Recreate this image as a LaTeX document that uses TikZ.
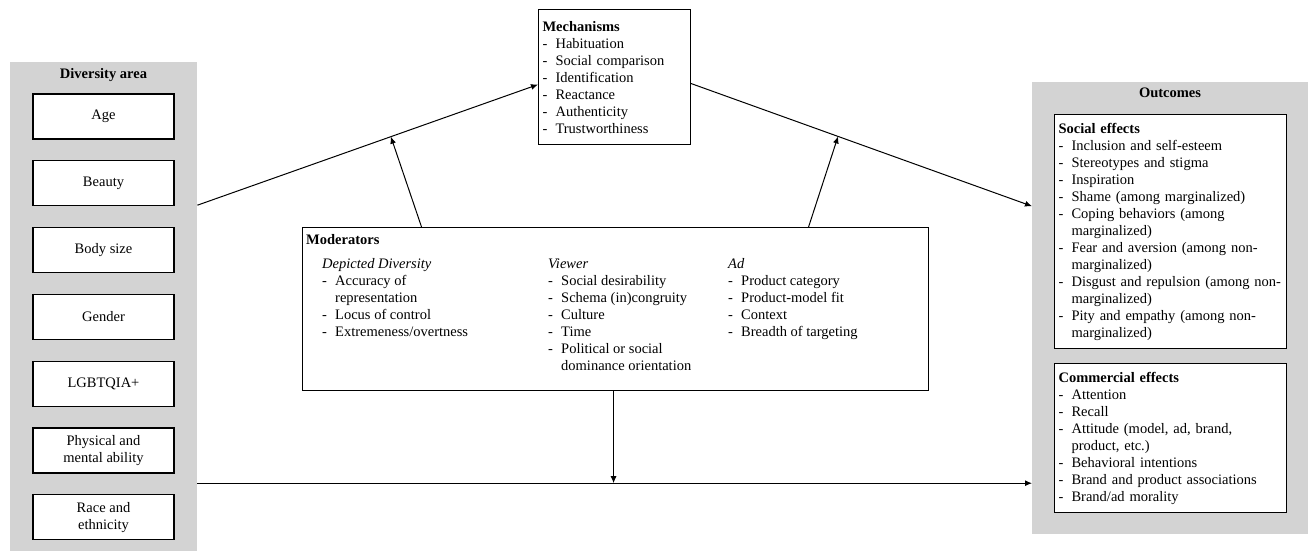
\documentclass[tikz,border=0pt]{standalone}
\usepackage{fontspec}
\setmainfont{Liberation Serif}
\usepackage{xcolor}
\usetikzlibrary{arrows.meta,positioning,calc}

\definecolor{panelgray}{RGB}{211,211,211}
\newcommand{\bul}{\makebox[13pt][l]{-}}
\newcommand{\skipdash}{\hspace*{13pt}}

\begin{document}
\begin{tikzpicture}[
        x=1pt, y=-1pt,
        node distance=20.7pt,
        font=\fontsize{14.5}{17}\selectfont,
        panel/.style={
            rectangle, fill=panelgray, inner sep=0pt, anchor=north west
        },
        areabox/.style={
            rectangle, draw, fill=white, line width=1.1pt,
            minimum width=141pt, minimum height=45pt,
            align=center, inner sep=2pt
        },
        listbox/.style={
            rectangle, draw, fill=white, line width=1.1pt,
            anchor=north west, align=left, inner xsep=4pt
        },
        coltext/.style={anchor=north west, align=left, inner sep=0pt},
        arrow/.style={-{Latex[length=7pt, width=6pt]}, line width=1pt}
    ]
    \useasboundingbox (0,0) rectangle (1308,551);

    % Diversity area
    \node[panel, minimum width=187pt, minimum height=489pt] (divarea) at (10,62) {};
    \node[anchor=base] (divtitle) at (103.5,78) {\textbf{Diversity area}};
    \node[areabox] (age) at (103.5,116.5) {Age};
    \node[areabox, below=of age] (beauty) {Beauty};
    \node[areabox, below=of beauty] (bodysize) {Body size};
    \node[areabox, below=of bodysize] (gender) {Gender};
    \node[areabox, below=of gender] (lgbt) {LGBTQIA+};
    \node[areabox, below=of lgbt] (ability) {Physical and\\mental ability};
    \node[areabox, below=of ability] (race) {Race and\\ethnicity};

    % Mechanisms
    \node[listbox, text width=144pt, minimum height=135pt] (mech) at (538,9) {%
        \textbf{Mechanisms}\\
        \bul Habituation\\
        \bul Social comparison\\
        \bul Identification\\
        \bul Reactance\\
        \bul Authenticity\\
        \bul Trustworthiness};

    % Moderators
    \node[rectangle, draw, line width=1.1pt, anchor=north west,
          minimum width=626pt, minimum height=163pt] (mod) at (302,227) {};
    \node[anchor=base west, inner sep=0pt] (modtitle) at (306,244) {\textbf{Moderators}};
    \node[coltext] (depicted) at (322,258.5) {%
        \textit{Depicted Diversity}\\
        \bul Accuracy of\\
        \skipdash representation\\
        \bul Locus of control\\
        \bul Extremeness/overtness};
    \node[coltext] (viewer) at (548,258.5) {%
        \textit{Viewer}\\
        \bul Social desirability\\
        \bul Schema (in)congruity\\
        \bul Culture\\
        \bul Time\\
        \bul Political or social\\
        \skipdash dominance orientation};
    \node[coltext] (adcol) at (728,258.5) {%
        \textit{Ad}\\
        \bul Product category\\
        \bul Product-model fit\\
        \bul Context\\
        \bul Breadth of targeting};

    % Outcomes
    \node[panel, minimum width=276pt, minimum height=452pt] (outcomes) at (1032,82) {};
    \node[anchor=base] (outtitle) at (1170,97) {\textbf{Outcomes}};
    \node[listbox, text width=224pt, minimum height=234pt] (social) at (1054,114) {%
        \textbf{Social effects}\\
        \bul Inclusion and self-esteem\\
        \bul Stereotypes and stigma\\
        \bul Inspiration\\
        \bul Shame (among marginalized)\\
        \bul Coping behaviors (among\\
        \skipdash marginalized)\\
        \bul Fear and aversion (among non-\\
        \skipdash marginalized)\\
        \bul Disgust and repulsion (among non-\\
        \skipdash marginalized)\\
        \bul Pity and empathy (among non-\\
        \skipdash marginalized)};
    \node[listbox, text width=224pt, minimum height=149pt] (commercial) at (1054,363) {%
        \textbf{Commercial effects}\\
        \bul Attention\\
        \bul Recall\\
        \bul Attitude (model, ad, brand,\\
        \skipdash product, etc.)\\
        \bul Behavioral intentions\\
        \bul Brand and product associations\\
        \bul Brand/ad morality};

    % Connectors
    \coordinate (lstart) at ([yshift=101.5pt]divarea.east);
    \coordinate (lend) at ([yshift=-7.5pt]mech.west);
    \coordinate (rstart) at ([yshift=-6.5pt]mech.east);
    \coordinate (rend) at ([yshift=102pt]outcomes.west);
    \coordinate (hstart) at ([yshift=-176.5pt]divarea.east);
    \coordinate (hend) at ([yshift=-175pt]outcomes.west);
    \coordinate (modout) at ([xshift=-2pt]mod.south);

    \draw[arrow] (lstart) -- (lend);
    \draw[arrow] (rstart) -- (rend);
    \draw[arrow] (hstart) -- (hend);

    % moderating arrows
    \draw[arrow] ([xshift=-194pt]mod.north) -- ($(lstart)!0.568!(lend)$);
    \draw[arrow] ([xshift=193pt]mod.north) -- ($(rstart)!0.431!(rend)$);
    \draw[arrow] (modout) -- (modout |- hstart);

\end{tikzpicture}
\end{document}
